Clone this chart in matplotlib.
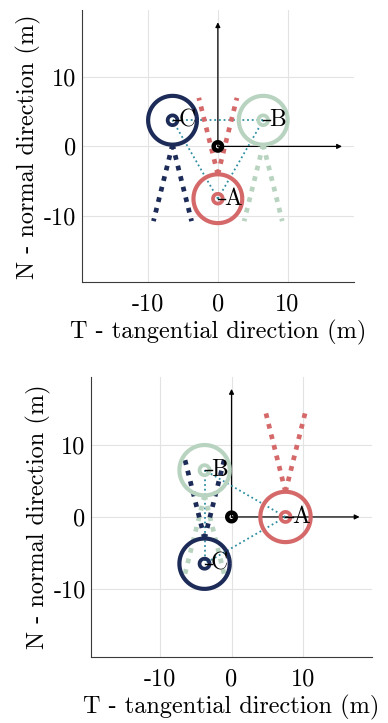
import numpy as np
import matplotlib.pyplot as plt

plt.rcParams['font.family'] = ['cmr10', 'DejaVu Serif']
plt.rcParams['axes.formatter.use_mathtext'] = True

# agent colours
col = {'A': '#d5696a', 'B': '#b8d4c0', 'C': '#1c2b57'}
link_col = '#2f8fa2'

names = ['A', 'B', 'C']
# formation positions (T, N) for the two snapshots
pos_top = {'A': (0.0, -7.5), 'B': (6.5, 3.75), 'C': (-6.5, 3.75)}
pos_bot = {'A': (7.5, 0.0), 'B': (-3.75, 6.5), 'C': (-3.75, -6.5)}
# viewing direction of each agent (deg)
head_top = {'A': 90, 'B': -90, 'C': -90}
head_bot = {'A': 90, 'B': -90, 'C': 90}

R_big = 3.5        # safety ring
R_small = 0.7      # agent body
cone_half = 14     # half opening of field of view (deg)
cone_len = 11.3
lim = 19.5
ticks = [-10, 0, 10]
tick_labels = ['-10', '0', '10']
fs = 17.5


def circle(ax, c, r, color, lw, z=3):
    t = np.linspace(0, 2 * np.pi, 200)
    ax.plot(c[0] + r * np.cos(t), c[1] + r * np.sin(t), color=color, lw=lw, zorder=z,
            solid_capstyle='butt')


def panel(ax, pos, head):
    ax.set_xlim(-lim, lim)
    ax.set_ylim(-lim, lim)
    ax.set_aspect('equal')
    ax.set_xticks(ticks)
    ax.set_xticklabels(tick_labels)
    ax.set_yticks(ticks)
    ax.set_yticklabels(tick_labels)
    ax.grid(True, color='#e3e3e3', lw=0.8)
    ax.set_axisbelow(True)
    for s in ['top', 'right']:
        ax.spines[s].set_visible(False)
    for s in ['left', 'bottom']:
        ax.spines[s].set_color('#3a3a3a')
        ax.spines[s].set_linewidth(0.8)
    ax.tick_params(length=0, labelsize=fs)
    ax.tick_params(axis='x', pad=8)
    ax.tick_params(axis='y', pad=4)
    ax.set_xlabel('T - tangential direction (m)', fontsize=fs, labelpad=3)
    ax.set_ylabel('N - normal direction (m)', fontsize=fs, labelpad=2)

    # reference frame arrows
    ax.annotate('', xy=(0, 17.8), xytext=(0, 0),
                arrowprops=dict(arrowstyle='-|>', color='k', lw=0.9, mutation_scale=7,
                                shrinkA=0, shrinkB=0), zorder=2)
    ax.annotate('', xy=(17.8, 0), xytext=(0, 0),
                arrowprops=dict(arrowstyle='-|>', color='k', lw=0.9, mutation_scale=7,
                                shrinkA=0, shrinkB=0), zorder=2)

    # links between agents
    for i in range(3):
        for j in range(i + 1, 3):
            p, q = pos[names[i]], pos[names[j]]
            ax.plot([p[0], q[0]], [p[1], q[1]], color=link_col, lw=1.3,
                    ls=(0, (1, 1.6)), zorder=2)

    for n in names:
        x, y = pos[n]
        a = np.deg2rad(head[n])
        ax0, ay0 = x + R_big * np.cos(a), y + R_big * np.sin(a)
        for s in (-1, 1):
            b = a + s * np.deg2rad(cone_half)
            ax.plot([ax0, ax0 + cone_len * np.cos(b)], [ay0, ay0 + cone_len * np.sin(b)],
                    color=col[n], lw=3.4, ls=(0, (1, 1.3)), zorder=2)
        circle(ax, (x, y), R_big, col[n], 3.0)
        circle(ax, (x, y), R_small, col[n], 2.7, z=4)
        ax.plot([x, x + 1.0], [y, y], color='k', lw=1.0, zorder=5)
        ax.text(x + 0.9, y, n, fontsize=17, ha='left', va='center', zorder=6)

    # own vehicle at the origin
    circle(ax, (0, 0), 0.6, 'k', 3.2, z=5)
    ax.plot([0, 0.45], [0, -0.25], color='k', lw=1.0, zorder=6)


fig = plt.figure(figsize=(3.88, 7.23), dpi=100)
ax1 = fig.add_axes([0.211, 0.609, 0.701, 0.377])
ax2 = fig.add_axes([0.2345, 0.091, 0.7245, 0.388])
panel(ax1, pos_top, head_top)
panel(ax2, pos_bot, head_bot)

fig.savefig('out.png', dpi=100)
